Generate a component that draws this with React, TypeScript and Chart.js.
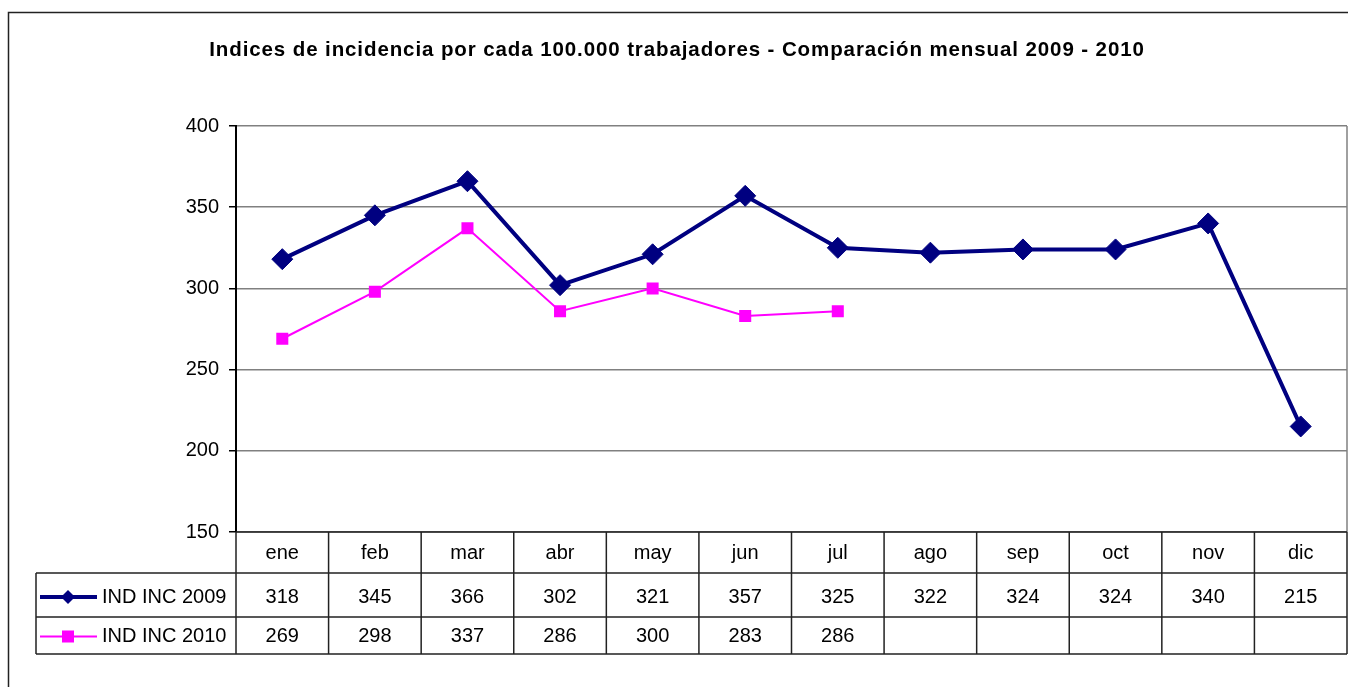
import React, { useEffect, useRef } from "react";
import { Chart, registerables } from "chart.js";

Chart.register(...registerables);

const months = ["ene", "feb", "mar", "abr", "may", "jun", "jul", "ago", "sep", "oct", "nov", "dic"];
const series2009 = [318, 345, 366, 302, 321, 357, 325, 322, 324, 324, 340, 215];
const series2010: (number | null)[] = [269, 298, 337, 286, 300, 283, 286, null, null, null, null, null];
const label2009 = "IND INC 2009";
const label2010 = "IND INC 2010";
const titleText = "Indices de incidencia por cada 100.000 trabajadores - Comparación mensual 2009 - 2010";
const yMin = 150;
const yMax = 400;
const yStep = 50;

const NAVY = "#000080";
const PINK = "#FF00FF";
const FONT = "'Liberation Sans', Arial, sans-serif";

const tablePlugin = {
  id: "excelTable",
  afterDraw(chart: any) {
    const { ctx, chartArea } = chart;
    const x = chart.scales.x;
    const left = chartArea.left;
    const right = chartArea.right;
    const top = chartArea.bottom;
    const row1 = top + 41;
    const row2 = row1 + 44;
    const row3 = row2 + 37;
    const tableLeft = 36;
    const colW = (right - left) / months.length;

    ctx.save();
    // outer frame
    ctx.strokeStyle = "#222";
    ctx.lineWidth = 1.5;
    ctx.strokeRect(8.5, 12.5, 1400, 700);

    // title
    ctx.fillStyle = "#000";
    ctx.font = `bold 20.5px ${FONT}`;
    ctx.textAlign = "left";
    ctx.textBaseline = "middle";
    (ctx as any).letterSpacing = "0.9px";
    const tw = ctx.measureText(titleText).width;
    ctx.fillText(titleText, 677 - tw / 2, 50);
    (ctx as any).letterSpacing = "0px";

    // plot right border
    ctx.strokeStyle = "#808080";
    ctx.lineWidth = 1.5;
    ctx.beginPath();
    ctx.moveTo(right, chartArea.top);
    ctx.lineTo(right, chartArea.bottom);
    ctx.stroke();

    // table lines
    ctx.strokeStyle = "#222";
    ctx.lineWidth = 1.5;
    ctx.beginPath();
    ctx.moveTo(left, top);
    ctx.lineTo(right, top);
    ctx.moveTo(tableLeft, row1);
    ctx.lineTo(right, row1);
    ctx.moveTo(tableLeft, row2);
    ctx.lineTo(right, row2);
    ctx.moveTo(tableLeft, row3);
    ctx.lineTo(right, row3);
    ctx.moveTo(tableLeft, row1);
    ctx.lineTo(tableLeft, row3);
    for (let i = 0; i <= months.length; i++) {
      const cx = left + i * colW;
      ctx.moveTo(cx, top);
      ctx.lineTo(cx, row3);
    }
    ctx.stroke();

    // texts
    ctx.fillStyle = "#000";
    ctx.font = `20px ${FONT}`;
    ctx.textAlign = "center";
    ctx.textBaseline = "middle";
    months.forEach((m, i) => {
      const cx = x.getPixelForValue(i);
      ctx.fillText(m, cx, (top + row1) / 2 + 1);
      const v1 = series2009[i];
      if (v1 != null) ctx.fillText(String(v1), cx, (row1 + row2) / 2 + 2);
      const v2 = series2010[i];
      if (v2 != null) ctx.fillText(String(v2), cx, (row2 + row3) / 2 + 1);
    });

    // legend keys
    const y1 = (row1 + row2) / 2 + 2;
    const y2 = (row2 + row3) / 2 + 1;
    ctx.strokeStyle = NAVY;
    ctx.lineWidth = 4;
    ctx.beginPath();
    ctx.moveTo(40, y1);
    ctx.lineTo(97, y1);
    ctx.stroke();
    ctx.fillStyle = NAVY;
    ctx.beginPath();
    ctx.moveTo(68 - 7, y1);
    ctx.lineTo(68, y1 - 7);
    ctx.lineTo(68 + 7, y1);
    ctx.lineTo(68, y1 + 7);
    ctx.closePath();
    ctx.fill();

    ctx.strokeStyle = PINK;
    ctx.lineWidth = 2;
    ctx.beginPath();
    ctx.moveTo(40, y2);
    ctx.lineTo(97, y2);
    ctx.stroke();
    ctx.fillStyle = PINK;
    ctx.fillRect(68 - 6, y2 - 6, 12, 12);

    ctx.fillStyle = "#000";
    ctx.textAlign = "left";
    ctx.fillText(label2009, 102, y1);
    ctx.fillText(label2010, 102, y2);
    ctx.restore();
  },
};

export default function App() {
  const ref = useRef<HTMLCanvasElement | null>(null);
  useEffect(() => {
    if (!ref.current) return;
    const chart = new Chart(ref.current, {
      type: "line",
      data: {
        labels: months,
        datasets: [
          {
            label: label2009,
            data: series2009,
            borderColor: NAVY,
            backgroundColor: NAVY,
            borderWidth: 4,
            pointStyle: "rectRot",
            pointRadius: 10.5,
            pointBorderWidth: 1,
            pointBackgroundColor: NAVY,
            pointBorderColor: NAVY,
            tension: 0,
          },
          {
            label: label2010,
            data: series2010,
            borderColor: PINK,
            backgroundColor: PINK,
            borderWidth: 2,
            pointStyle: "rect",
            pointRadius: 8.5,
            pointBorderWidth: 0,
            pointBackgroundColor: PINK,
            pointBorderColor: PINK,
            tension: 0,
            spanGaps: false,
          },
        ],
      },
      options: {
        animation: false,
        responsive: false,
        maintainAspectRatio: false,
        layout: { autoPadding: false, padding: { top: 126, bottom: 155, right: 1, left: 0 } },
        plugins: {
          legend: { display: false },
          title: { display: false },
          tooltip: { enabled: false },
        },
        scales: {
          x: {
            type: "category",
            display: false,
            offset: true,
          },
          y: {
            min: yMin,
            max: yMax,
            afterFit: (s: any) => {
              s.width = 236;
            },
            ticks: {
              stepSize: yStep,
              color: "#000",
              font: { family: FONT, size: 20 },
              padding: 10,
            },
            grid: {
              color: "#808080",
              lineWidth: 1.5,
              tickColor: "#000",
              tickLength: 7,
              tickWidth: 1.5,
            },
            border: { color: "#000", width: 2 },
          },
        },
      },
      plugins: [tablePlugin],
    });
    return () => chart.destroy();
  }, []);
  return (
    <div style={{ position: "fixed", left: 0, top: 0, width: 1348, height: 687, background: "#fff" }}>
      <canvas ref={ref} width={1348} height={687} style={{ width: 1348, height: 687 }} />
    </div>
  );
}
